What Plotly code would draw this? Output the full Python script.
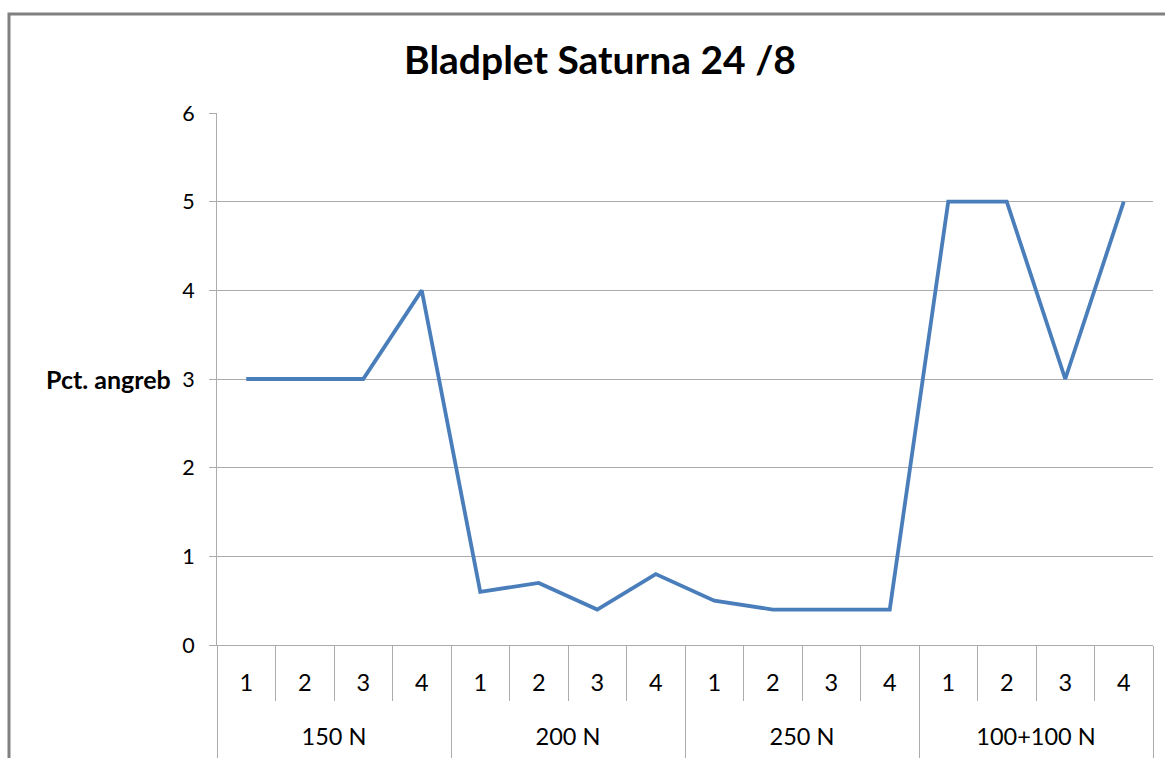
import plotly.graph_objects as go

groups = ["150 N", "200 N", "250 N", "100+100 N"]
subcats = ["1", "2", "3", "4"]
values = [3, 3, 3, 4,
          0.6, 0.7, 0.4, 0.8,
          0.5, 0.4, 0.4, 0.4,
          5, 5, 3, 5]
yticks = [0, 1, 2, 3, 4, 5, 6]

n_sub = len(subcats)
n = len(groups) * n_sub
xpos = list(range(n))
inner_labels = [s for _ in groups for s in subcats]
inner_bounds = [i - 0.5 for i in range(n + 1)]
group_bounds = [g * n_sub - 0.5 for g in range(len(groups) + 1)]
group_centers = [g * n_sub + (n_sub - 1) / 2 for g in range(len(groups))]

FONT = "Lato"
GRID = "#ababab"
xr = [-0.5, n - 0.5]

fig = go.Figure()
fig.add_trace(go.Scatter(
    x=xpos, y=values, mode="lines",
    line=dict(color="#4a7ebb", width=3.8),
    hoverinfo="skip", showlegend=False,
))

W, H = 1165, 758
L, R, T, B = 217, 1153, 113, 645
fig.update_layout(
    width=W, height=H,
    margin=dict(l=L, r=W - R, t=T, b=H - B, pad=0, autoexpand=False),
    paper_bgcolor="white", plot_bgcolor="white",
    font=dict(family=FONT, size=23, color="black"),
    title=dict(text="<b>Bladplet Saturna 24 /8</b>", x=(600 - L) / (R - L),
               xanchor="center", xref="paper",
               y=1 - 60 / H, yanchor="middle",
               font=dict(family=FONT, size=39, color="black")),
    showlegend=False,
    xaxis=dict(range=xr, tickvals=inner_bounds, ticktext=[""] * len(inner_bounds),
               ticks="outside", ticklen=55, tickcolor=GRID, showgrid=False,
               showline=True, linecolor=GRID, zeroline=False, automargin=False),
    xaxis2=dict(range=xr, matches="x", overlaying="x", anchor="y", side="bottom",
                tickvals=xpos, ticktext=inner_labels, ticks="", showgrid=False,
                showline=False, zeroline=False, ticklabelstandoff=21, automargin=False,
                tickfont=dict(family=FONT, size=23.5)),
    xaxis3=dict(range=xr, matches="x", overlaying="x", anchor="y", side="bottom",
                tickvals=group_bounds, ticktext=[""] * len(group_bounds),
                ticks="outside", ticklen=112, tickcolor=GRID, showgrid=False,
                showline=False, zeroline=False, automargin=False),
    xaxis4=dict(range=xr, matches="x", overlaying="x", anchor="y", side="bottom",
                tickvals=group_centers, ticktext=groups, ticks="", showgrid=False,
                showline=False, zeroline=False, ticklabelstandoff=75, automargin=False,
                tickfont=dict(family=FONT, size=23.5)),
    yaxis=dict(range=[0, 6], tickvals=yticks, showgrid=True, gridcolor=GRID, gridwidth=1,
               showline=True, linecolor=GRID, linewidth=1, automargin=False,
               ticks="outside", ticklen=7, tickcolor=GRID, ticklabelstandoff=10,
               zeroline=False, tickfont=dict(family=FONT, size=21.5)),
)
# empty traces to activate the label axes
for ax in ["x2", "x3", "x4"]:
    fig.add_trace(go.Scatter(x=[None], y=[None], xaxis=ax, yaxis="y",
                             hoverinfo="skip", showlegend=False))

# chart frame
fig.add_shape(type="rect", xref="paper", yref="paper",
              x0=(9 - L) / (R - L), x1=(1185 - L) / (R - L),
              y0=(B - 820) / (B - T), y1=(B - 14) / (B - T),
              line=dict(color="#808080", width=3), fillcolor="rgba(0,0,0,0)",
              layer="below")
fig.add_annotation(text="<b>Pct. angreb</b>", xref="paper", yref="y",
                   x=(173 - L) / (R - L), y=3, xanchor="right", yanchor="middle",
                   showarrow=False, font=dict(family=FONT, size=25, color="black"))

fig.write_html("out.html", config={"displayModeBar": False},
               post_script="document.body.style.margin='0';document.body.style.overflow='hidden';")
